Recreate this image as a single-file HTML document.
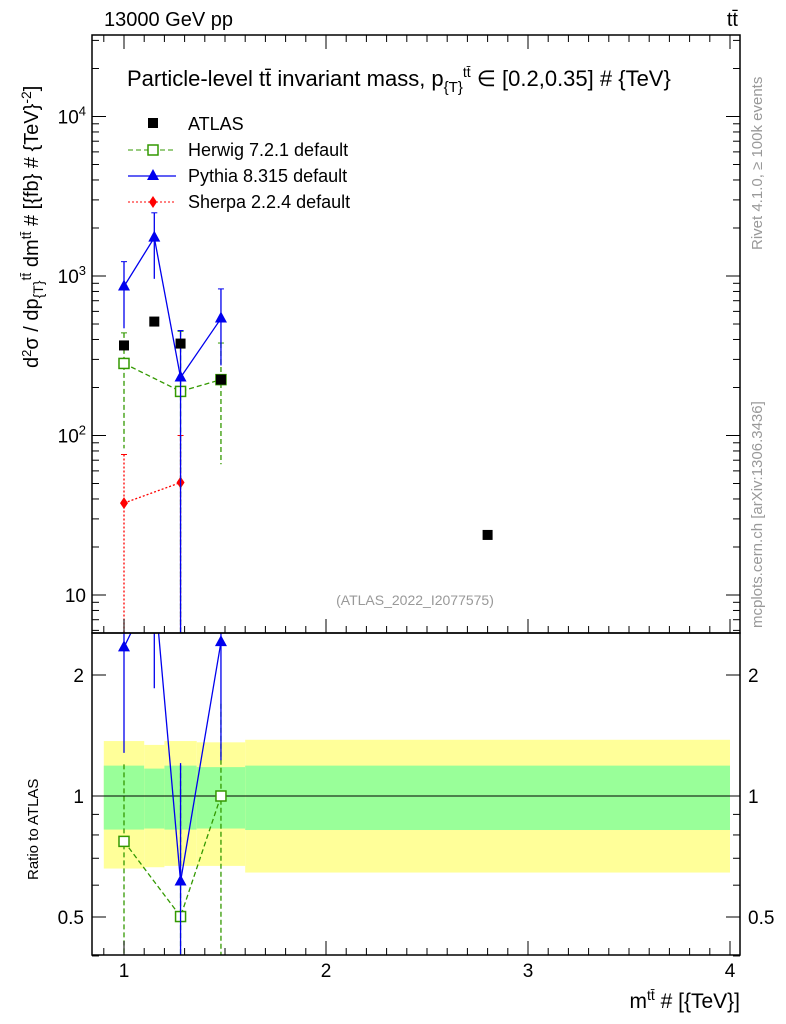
<!DOCTYPE html>
<html><head><meta charset="utf-8"><style>
html,body{margin:0;background:#fff;font-family:"Liberation Sans",sans-serif;overflow:hidden;width:786px;height:1024px}
svg{display:block}
svg text{font-family:"Liberation Sans",sans-serif}
</style></head><body>
<svg id="c" width="786" height="1024" xmlns="http://www.w3.org/2000/svg"></svg>
<script>
const binEdges=[0.9,1.1,1.2,1.36,1.6,4.0];
const xCenters=[1.0,1.15,1.28,1.48,2.8];
const atlasVals=[367,518,377,224,23.8];
const bandYellowHi=[1.37,1.34,1.37,1.36,1.38];
const bandYellowLo=[0.66,0.665,0.67,0.67,0.645];
const bandGreenHi=[1.19,1.17,1.19,1.18,1.19];
const bandGreenLo=[0.825,0.83,0.825,0.83,0.823];
const herwigX=[1.0,1.28,1.48];
const herwigVals=[283,189,224];
const herwigHi=[440,450,380];
const herwigLo=[83,0.1,66];
const pythiaX=[1.0,1.15,1.28,1.48];
const pythiaVals=[860,1740,231,541];
const pythiaHi=[1230,2490,455,830];
const pythiaLo=[470,960,0.1,275];
const sherpaX=[1.0,1.28];
const sherpaVals=[37.7,50.7];
const sherpaHi=[76,100];
const sherpaLo=[0.1,0.1];
const mainTicks=[10,100,1000,10000];
const mainTickLabels=["10","10<tspan dy='-8' font-size='13'>2</tspan>","10<tspan dy='-8' font-size='13'>3</tspan>","10<tspan dy='-8' font-size='13'>4</tspan>"];
const ratioTicks=[0.5,1,2];
const xTicks=[1,2,3,4];

const L=92,R=740,T=35,MB=633,RB=955;
const sx=v=>124+(v-1)*202;
const sy=v=>595-(Math.log10(v)-1)*159.5;
const sr=v=>796-Math.log2(v)*121;
const svg=document.getElementById('c');
let h='';
h+=`<defs><clipPath id="mc"><rect x="${L}" y="${T}" width="${R-L}" height="${MB-T}"/></clipPath><clipPath id="rc"><rect x="${L}" y="${MB}" width="${R-L}" height="${RB-MB}"/></clipPath></defs>`;
h+=`<g clip-path="url(#rc)">`;
for(let i=0;i<xCenters.length;i++){const x0=sx(binEdges[i]),x1=sx(binEdges[i+1]);
h+=`<rect x="${x0}" y="${sr(bandYellowHi[i])}" width="${x1-x0}" height="${sr(bandYellowLo[i])-sr(bandYellowHi[i])}" fill="#ffff99"/>`;
h+=`<rect x="${x0}" y="${sr(bandGreenHi[i])}" width="${x1-x0}" height="${sr(bandGreenLo[i])-sr(bandGreenHi[i])}" fill="#99ff99"/>`;}
h+=`</g><line x1="${L}" x2="${R}" y1="${sr(1)}" y2="${sr(1)}" stroke="#000"/>`;
function series(name,xs,vals,hi,lo,col,dash,marker){
 let s=`<g clip-path="url(#mc)">`;
 s+=`<polyline fill="none" stroke="${col}" stroke-width="1.3" ${dash} points="${xs.map((x,i)=>sx(x)+','+sy(vals[i])).join(' ')}"/>`;
 xs.forEach((x,i)=>{const X=sx(x),y1=sy(hi[i]),y2=Math.min(sy(lo[i]),MB+2);
 s+=`<line x1="${X}" x2="${X}" y1="${y1}" y2="${y2}" stroke="${col}" stroke-width="1.3" ${dash}/><line x1="${X-3}" x2="${X+3}" y1="${y1}" y2="${y1}" stroke="${col}"/>`;
 s+=marker(X,sy(vals[i]));});
 s+=`</g><g clip-path="url(#rc)">`;
 const rv=xs.map((x,i)=>vals[i]/atlasVals[xCenters.indexOf(x)]);
 s+=`<polyline fill="none" stroke="${col}" stroke-width="1.3" ${dash} points="${xs.map((x,i)=>sx(x)+','+sr(rv[i])).join(' ')}"/>`;
 xs.forEach((x,i)=>{const a=atlasVals[xCenters.indexOf(x)],X=sx(x);
 s+=`<line x1="${X}" x2="${X}" y1="${sr(hi[i]/a)}" y2="${Math.min(sr(lo[i]/a),RB+2)}" stroke="${col}" stroke-width="1.3" ${dash}/>`;
 s+=marker(X,sr(rv[i]));});
 return s+'</g>';}
const sq=(X,Y)=>`<rect x="${X-5}" y="${Y-5}" width="10" height="10" fill="#fff" stroke="#339900" stroke-width="1.5"/>`;
const tri=(X,Y)=>`<polygon points="${X},${Y-7} ${X-6},${Y+4} ${X+6},${Y+4}" fill="#0000ee"/>`;
const dia=(X,Y)=>`<polygon points="${X},${Y-6} ${X-4},${Y} ${X},${Y+6} ${X+4},${Y}" fill="#ff0000"/>`;
h+=series('sherpa',sherpaX,sherpaVals,sherpaHi,sherpaLo,'#ff0000','stroke-dasharray="2,2"',dia);
h+=series('herwig',herwigX,herwigVals,herwigHi,herwigLo,'#339900','stroke-dasharray="5,3"',sq);
h+=series('pythia',pythiaX,pythiaVals,pythiaHi,pythiaLo,'#0000ee','',tri);
h+=`<g>`;
xCenters.forEach((x,i)=>{h+=`<rect x="${sx(x)-5}" y="${sy(atlasVals[i])-5}" width="10" height="10" fill="#000"/>`;});
h+='</g>';
h+=`<rect x="${L}" y="${T}" width="${R-L}" height="${MB-T}" fill="none" stroke="#000" stroke-width="1.5"/>`;
h+=`<rect x="${L}" y="${MB}" width="${R-L}" height="${RB-MB}" fill="none" stroke="#000" stroke-width="1.5"/>`;
h+=`<g>`;
for(let e=0;e<5;e++)for(let m=1;m<10;m++){const v=m*Math.pow(10,e);const y=sy(v);if(y<T||y>MB)continue;const len=m==1?14:7;
h+=`<line x1="${L}" x2="${L+len}" y1="${y}" y2="${y}" stroke="#000"/><line x1="${R-len}" x2="${R}" y1="${y}" y2="${y}" stroke="#000"/>`;}
mainTicks.forEach((v,i)=>{h+=`<text x="${L-6}" y="${sy(v)+7}" text-anchor="end" font-size="19">${mainTickLabels[i]}</text>`;});
h+='</g><g>';
[0.4,0.5,0.6,0.7,0.8,0.9,1,2].forEach(v=>{const y=sr(v);const len=(v==0.5||v==1||v==2)?14:7;
h+=`<line x1="${L}" x2="${L+len}" y1="${y}" y2="${y}" stroke="#000"/><line x1="${R-len}" x2="${R}" y1="${y}" y2="${y}" stroke="#000"/>`;});
ratioTicks.forEach(v=>{h+=`<text x="${L-8}" y="${sr(v)+7}" text-anchor="end" font-size="19">${v}</text><text x="${R+8}" y="${sr(v)+7}" font-size="19">${v}</text>`;});
h+='</g><g>';
for(let v=0.9;v<=4.01;v+=0.1){const X=sx(v);if(X<L)continue;const major=Math.abs(v-Math.round(v))<0.01;const len=major?14:7;
h+=`<line x1="${X}" x2="${X}" y1="${RB-len}" y2="${RB}" stroke="#000"/><line x1="${X}" x2="${X}" y1="${T}" y2="${T+len}" stroke="#000"/><line x1="${X}" x2="${X}" y1="${MB-len}" y2="${MB}" stroke="#000"/>`;}
xTicks.forEach(v=>{h+=`<text x="${sx(v)}" y="${RB+22}" text-anchor="middle" font-size="19">${v}</text>`;});
h+='</g>';
h+=`<text x="104" y="26" font-size="20">13000 GeV pp</text>`;
h+=`<text x="738" y="26" text-anchor="end" font-size="20">tt̄</text>`;
h+=`<text x="127" y="86" font-size="22">Particle-level tt̄ invariant mass, p<tspan dy="6" font-size="15">{T}</tspan><tspan dy="-15" font-size="14">tt̄</tspan><tspan dy="9"> ∈ [0.2,0.35] # {TeV}</tspan></text>`;
h+=`<text transform="translate(38,368) rotate(-90)" font-size="20">d<tspan dy="-7" font-size="13">2</tspan><tspan dy="7">σ / dp</tspan><tspan dy="5" font-size="14">{T}</tspan><tspan dy="-12" font-size="14">tt̄</tspan><tspan dy="7"> dm</tspan><tspan dy="-7" font-size="14">tt̄</tspan><tspan dy="7"> # [{fb} # {TeV}</tspan><tspan dy="-7" font-size="14">-2</tspan><tspan dy="7">]</tspan></text>`;
h+=`<text transform="translate(38,880) rotate(-90)" font-size="15">Ratio to ATLAS</text>`;
h+=`<text x="740" y="1008" text-anchor="end" font-size="21">m<tspan dy="-8" font-size="14">tt̄</tspan><tspan dy="8"> # [{TeV}]</tspan></text>`;
h+=`<text transform="translate(762,250) rotate(-90)" font-size="15" fill="#999">Rivet 4.1.0, ≥ 100k events</text>`;
h+=`<text transform="translate(762,628) rotate(-90)" font-size="15" fill="#999">mcplots.cern.ch [arXiv:1306.3436]</text>`;
h+=`<text x="415" y="605" text-anchor="middle" font-size="14" fill="#999">(ATLAS_2022_I2077575)</text>`;
h+=`<g font-size="18">`;
h+=`<rect x="148" y="118" width="10" height="10" fill="#000"/><text x="188" y="130">ATLAS</text>`;
h+=`<line x1="128" x2="176" y1="150" y2="150" stroke="#339900" stroke-dasharray="5,3"/><rect x="148" y="145" width="10" height="10" fill="#fff" stroke="#339900" stroke-width="1.5"/><text x="188" y="156">Herwig 7.2.1 default</text>`;
h+=`<line x1="128" x2="176" y1="176" y2="176" stroke="#0000ee" stroke-width="1.3"/><polygon points="153,169 147,180 159,180" fill="#0000ee"/><text x="188" y="182">Pythia 8.315 default</text>`;
h+=`<line x1="128" x2="176" y1="202" y2="202" stroke="#ff0000" stroke-dasharray="2,2"/><polygon points="153,196 149,202 153,208 157,202" fill="#ff0000"/><text x="188" y="208">Sherpa 2.2.4 default</text>`;
h+='</g>';
svg.innerHTML=h;
</script>
</body></html>
